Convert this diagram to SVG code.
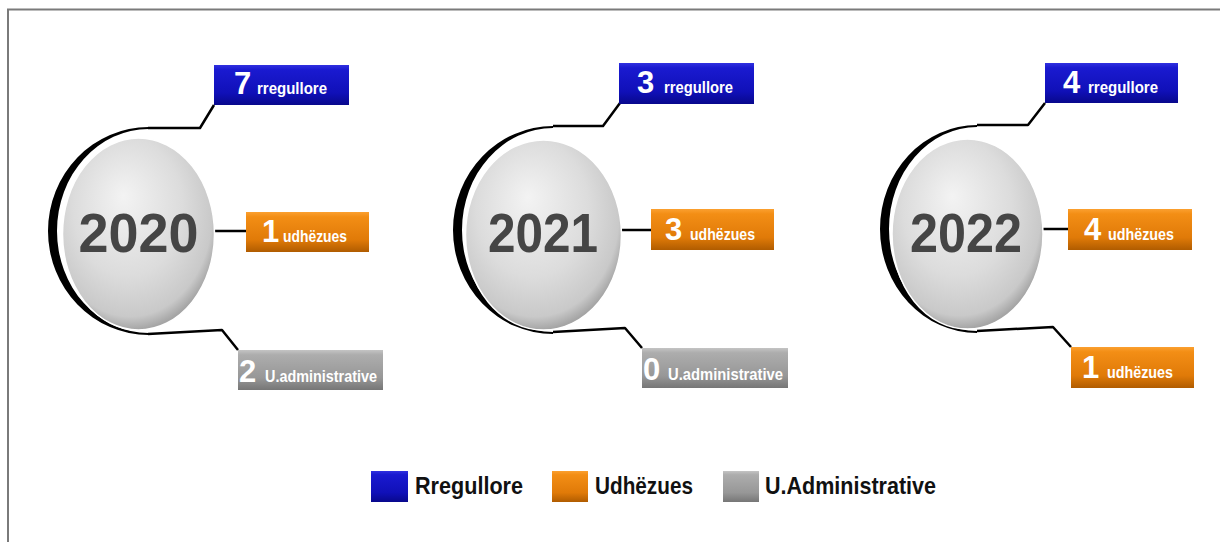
<svg xmlns="http://www.w3.org/2000/svg" width="1220" height="542" viewBox="0 0 1220 542">
<style>
.num{font-family:"Liberation Sans",Arial,sans-serif;font-weight:bold;fill:#fff;font-size:31px}
.lbl{font-family:"Liberation Sans",Arial,sans-serif;font-weight:bold;fill:#fff;font-size:17px}
.year{font-family:"Liberation Sans",Arial,sans-serif;font-weight:bold;fill:#454545;font-size:55px}
.leg{font-family:"Liberation Sans",Arial,sans-serif;font-weight:bold;fill:#111;font-size:24px}
.conn{fill:none;stroke:#000;stroke-width:2.5;stroke-linejoin:round}
.disc{fill:url(#gDisc);stroke:#fff;stroke-width:1.5}
.blue{fill:url(#gBlue)}
.orange{fill:url(#gOrange)}
.gray{fill:url(#gGray)}
</style>
<defs>
<radialGradient id="gDisc" cx="0.45" cy="0.4" r="0.6" fx="0.4" fy="0.3">
<stop offset="0" stop-color="#f3f3f3"/>
<stop offset="0.6" stop-color="#dcdcdc"/>
<stop offset="0.9" stop-color="#c9c9c9"/>
<stop offset="1" stop-color="#a5a5a5"/>
</radialGradient>
<linearGradient id="gBlue" x1="0" y1="0" x2="0" y2="1">
<stop offset="0" stop-color="#3030e0"/>
<stop offset="0.12" stop-color="#1a1ad0"/>
<stop offset="0.7" stop-color="#1010b8"/>
<stop offset="1" stop-color="#08088c"/>
</linearGradient>
<linearGradient id="gOrange" x1="0" y1="0" x2="0" y2="1">
<stop offset="0" stop-color="#fba030"/>
<stop offset="0.12" stop-color="#f38e15"/>
<stop offset="0.7" stop-color="#e07a08"/>
<stop offset="1" stop-color="#b05c00"/>
</linearGradient>
<linearGradient id="gGray" x1="0" y1="0" x2="0" y2="1">
<stop offset="0" stop-color="#c4c4c4"/>
<stop offset="0.12" stop-color="#adadad"/>
<stop offset="0.7" stop-color="#979797"/>
<stop offset="1" stop-color="#767676"/>
</linearGradient>
</defs>
<rect x="0" y="0" width="1220" height="542" fill="#fff"/>
<g id="frame">
<line x1="7" y1="9.5" x2="1220" y2="9.5" stroke="#7a7a7a" stroke-width="2"/>
<line x1="8" y1="9" x2="8" y2="542" stroke="#7a7a7a" stroke-width="2"/>
</g>
<g id="connectors">
<path class="conn" d="M148,128 L200,128 L214,105"/>
<path class="conn" d="M215,231 L246,231"/>
<path class="conn" d="M148,334 L222,330 L238,350"/>
<path class="conn" d="M553,126 L603,126 L620,103"/>
<path class="conn" d="M622,230 L651,230"/>
<path class="conn" d="M553,332 L625,328 L642,348"/>
<path class="conn" d="M977,125 L1028,125 L1045,103"/>
<path class="conn" d="M1043,229 L1068,229"/>
<path class="conn" d="M977,331 L1053,327 L1071,347"/>
</g>
<g id="y2020">
<path d="M148.5,127 A100.5,104 0 0 0 148.5,335 L148.5,333 A91.5,102 0 0 1 148.5,129 Z" fill="#000"/>
<ellipse class="disc" cx="138.5" cy="234" rx="76" ry="96"/>
<text class="year" x="138.5" y="252" text-anchor="middle" textLength="120" lengthAdjust="spacingAndGlyphs">2020</text>
</g>
<g id="y2020-reg">
<rect class="blue" x="214" y="65" width="135" height="40"/>
<text class="num" x="234" y="94">7</text>
<text class="lbl" x="257" y="94" textLength="70" lengthAdjust="spacingAndGlyphs">rregullore</text>
</g>
<g id="y2020-udh">
<rect class="orange" x="246" y="212" width="123" height="40"/>
<text class="num" x="262" y="242">1</text>
<text class="lbl" x="283" y="242" textLength="64" lengthAdjust="spacingAndGlyphs">udhëzues</text>
</g>
<g id="y2020-adm">
<rect class="gray" x="238" y="350" width="145" height="40"/>
<text class="num" x="239" y="382">2</text>
<text class="lbl" x="265" y="382" textLength="112" lengthAdjust="spacingAndGlyphs">U.administrative</text>
</g>
<g id="y2021">
<path d="M553,126 A100,104 0 0 0 553,334 L553,332 A91,102 0 0 1 553,128 Z" fill="#000"/>
<ellipse class="disc" cx="543.5" cy="235" rx="78" ry="95"/>
<text class="year" x="543" y="252" text-anchor="middle" textLength="110" lengthAdjust="spacingAndGlyphs">2021</text>
</g>
<g id="y2021-reg">
<rect class="blue" x="619" y="63" width="135" height="41"/>
<text class="num" x="637" y="93">3</text>
<text class="lbl" x="664" y="93" textLength="69" lengthAdjust="spacingAndGlyphs">rregullore</text>
</g>
<g id="y2021-udh">
<rect class="orange" x="651" y="209" width="123" height="41"/>
<text class="num" x="665" y="240">3</text>
<text class="lbl" x="690" y="240" textLength="65" lengthAdjust="spacingAndGlyphs">udhëzues</text>
</g>
<g id="y2021-adm">
<rect class="gray" x="642" y="348" width="146" height="40"/>
<text class="num" x="643" y="380">0</text>
<text class="lbl" x="668" y="380" textLength="115" lengthAdjust="spacingAndGlyphs">U.administrative</text>
</g>
<g id="y2022">
<path d="M977,125 A97,104 0 0 0 977,333 L977,331 A88,102 0 0 1 977,127 Z" fill="#000"/>
<ellipse class="disc" cx="967.5" cy="234" rx="75.5" ry="95"/>
<text class="year" x="966" y="252" text-anchor="middle" textLength="112" lengthAdjust="spacingAndGlyphs">2022</text>
</g>
<g id="y2022-reg">
<rect class="blue" x="1045" y="63" width="133" height="40"/>
<text class="num" x="1063" y="93">4</text>
<text class="lbl" x="1088" y="93" textLength="70" lengthAdjust="spacingAndGlyphs">rregullore</text>
</g>
<g id="y2022-udh">
<rect class="orange" x="1068" y="209" width="124" height="41"/>
<text class="num" x="1084" y="240">4</text>
<text class="lbl" x="1108" y="240" textLength="66" lengthAdjust="spacingAndGlyphs">udhëzues</text>
</g>
<g id="y2022-udh2">
<rect class="orange" x="1071" y="347" width="123" height="41"/>
<text class="num" x="1082" y="378">1</text>
<text class="lbl" x="1107" y="378" textLength="66" lengthAdjust="spacingAndGlyphs">udhëzues</text>
</g>
<g id="legend">
<rect class="blue" x="371" y="471" width="37" height="31"/>
<text class="leg" x="415" y="494" textLength="108" lengthAdjust="spacingAndGlyphs">Rregullore</text>
<rect class="orange" x="552" y="471" width="36" height="31"/>
<text class="leg" x="595" y="494" textLength="98" lengthAdjust="spacingAndGlyphs">Udhëzues</text>
<rect class="gray" x="723" y="471" width="36" height="31"/>
<text class="leg" x="765" y="494" textLength="171" lengthAdjust="spacingAndGlyphs">U.Administrative</text>
</g>
</svg>
